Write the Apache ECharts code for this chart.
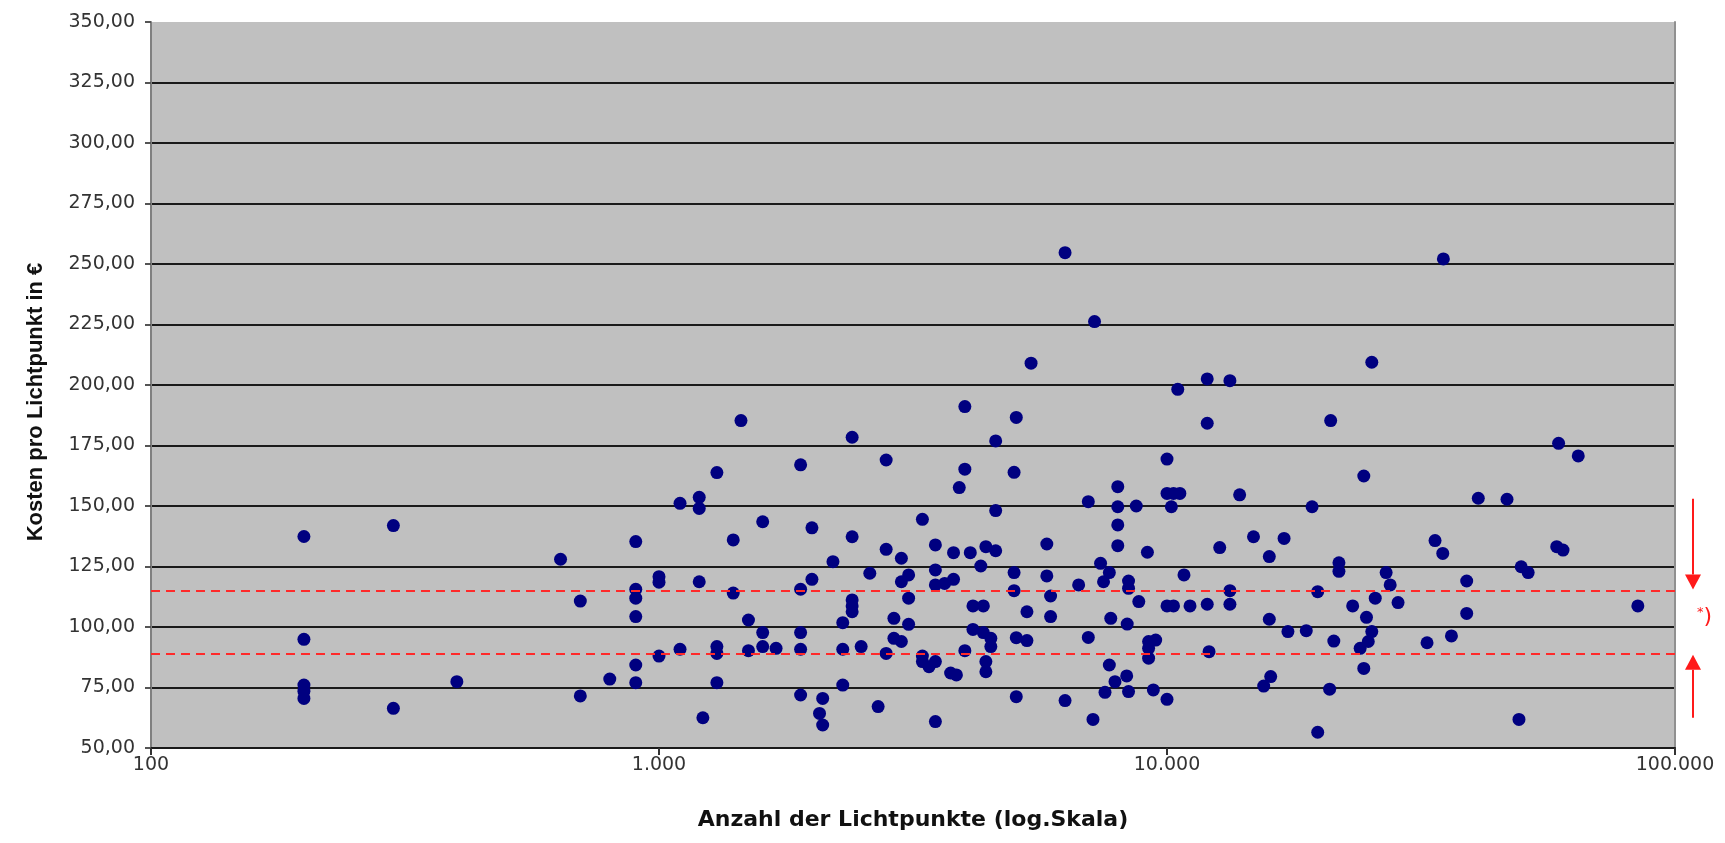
<!DOCTYPE html>
<html>
<head>
<meta charset="utf-8">
<title>Kosten pro Lichtpunkt</title>
<script src="https://cdn.jsdelivr.net/npm/echarts@6/dist/echarts.min.js"></script>
<style>
  html, body { margin: 0; padding: 0; background: #fff; }
  #chart { width: 1725px; height: 843px; }
</style>
</head>
<body>
<div id="chart"></div>
<script>
// Anzahl der Lichtpunkte (x, log) und Kosten pro Lichtpunkt in € (y)
var lichtpunkte = [
  200, 300, 200, 200, 200, 200, 400, 300,
  640, 700, 700, 800, 900, 900, 900, 900, 900, 900,
  1000, 1000, 1000, 1100, 1100, 1200, 1200, 1200, 1220,
  1300, 1300, 1300, 1300, 1400, 1400, 1450, 1500, 1500,
  1600, 1600, 1600, 1700, 1900, 1900, 1900, 1900, 1900,
  2000, 2000, 2100, 2070, 2100, 2200, 2300, 2300, 2300,
  2400, 2400, 2400, 2400, 2400, 2500, 2700, 2600, 2800, 2800, 2800,
  2900, 2900, 3000, 3000, 3000, 3100, 3100, 3100, 3300, 3300, 3300, 3400,
  3500, 3500, 3500, 3500, 3500, 3650, 3750,
  4000, 5050, 4600, 4000, 3900, 5000, 4600, 3800, 4100, 4400, 4600, 4300,
  3800, 5000, 5000, 5800, 5800, 5900, 5900, 4150, 4350, 5300, 4150, 4350,
  4500, 4500, 4000, 4400, 4400, 3850, 5050, 5300, 5050, 6300, 7150,
  7000, 7000, 8000, 8000, 8700, 8000, 8000, 9150, 7400, 7700, 7500, 6700,
  8400, 8400, 8800, 7750, 8350, 9200, 9500, 9200, 9200, 7700, 7900, 8330,
  7550, 8400, 9400, 10000, 10000, 10000, 10300, 10600, 10200, 10500,
  12000, 13900, 10800, 10000, 10300, 11100, 12000, 13300, 13300, 12100,
  12700, 14800, 17000, 15900, 15900, 17300, 18800, 15500, 16000,
  19300, 21000, 19800, 19800, 21800, 21800, 21300, 20900,
  6300, 7200, 5400, 12000, 13300, 25300, 35000,
  59000, 64500, 24400, 41000, 46700, 33700, 34900, 27000, 27500, 38900,
  49800, 51400, 58500, 60200, 25700, 23200, 28500, 38900, 84500, 24700,
  25300, 24900, 24000, 36300, 32500, 24400, 49300
];
var kosten = [
  137.4, 141.9, 94.9, 76.0, 73.5, 70.5, 77.4, 66.4,
  128.0, 110.7, 71.5, 78.5, 135.3, 115.6, 111.9, 104.3, 84.3, 77.0,
  120.8, 118.5, 88.0, 151.1, 90.8, 153.6, 149.0, 118.7, 62.5,
  163.8, 91.9, 89.1, 77.0, 136.0, 114.0, 185.3, 102.9, 90.2,
  143.5, 97.7, 91.9, 91.2, 167.0, 115.6, 97.7, 90.8, 71.9,
  141.0, 119.7, 70.5, 64.3, 59.5, 127.0, 101.8, 90.8, 76.0,
  178.4, 137.3, 111.2, 108.7, 106.3, 91.9, 67.1, 122.2, 169.0, 132.1, 89.1,
  103.6, 95.3, 128.4, 118.7, 94.0, 121.5, 111.9, 101.1, 144.5, 88.0, 85.7, 83.6,
  133.9, 123.6, 117.4, 85.7, 60.9, 118.0, 81.0,
  191.1, 186.6, 176.9, 165.2, 157.6, 163.9, 148.1, 130.7, 130.7, 133.2, 131.5, 125.2,
  119.7, 122.5, 115.0, 134.3, 121.1, 112.8, 104.3, 108.7, 108.7, 106.3, 99.0, 97.7,
  95.3, 91.9, 90.2, 85.7, 81.5, 80.2, 95.6, 94.4, 71.2, 69.6, 61.8,
  151.8, 95.7, 158.0, 149.7, 150.0, 142.2, 133.6, 130.9, 126.3, 122.5, 118.7, 117.4,
  119.0, 116.0, 110.5, 103.6, 101.2, 94.0, 94.6, 91.2, 87.1, 84.3, 77.4, 79.8,
  73.0, 73.3, 74.0, 70.1, 169.4, 155.2, 155.2, 155.2, 149.7, 198.2,
  184.2, 154.6, 121.5, 108.7, 108.7, 108.7, 109.4, 115.0, 109.4, 89.8,
  132.8, 137.3, 136.6, 129.1, 103.2, 98.1, 98.5, 75.6, 79.5,
  149.7, 185.3, 114.6, 56.5, 126.5, 123.0, 94.2, 74.3,
  254.7, 226.2, 209.0, 202.5, 201.8, 209.4, 252.1,
  175.9, 170.7, 162.4, 153.2, 152.8, 135.7, 130.4, 122.5, 117.4, 119.0,
  124.9, 122.5, 133.2, 131.8, 111.9, 108.7, 110.1, 105.6, 108.7, 104.0,
  98.1, 94.0, 91.2, 96.3, 93.5, 82.9, 61.8
];

// Achsen
var xMin = 100, xMax = 100000;
var yMin = 50, yMax = 350, yStep = 25;

// Bandbreite (rote Linien) und Pfeile rechts
var bandGrenzen = [89, 115];
var pfeilRunter = [153, 115.5];
var pfeilHoch = [62.5, 88.5];
var hinweisWert = 104;

var punkte = lichtpunkte.map(function(x, i) { return [x, kosten[i]]; });

function deZahl(v) {
  return String(Math.round(v)).replace(/\B(?=(\d{3})+(?!\d))/g, '.');
}

var myChart = echarts.init(document.getElementById('chart'));
var option = {
  backgroundColor: '#ffffff',
  animation: false,
  grid: {
    left: 151,
    right: 50,
    top: 22,
    bottom: 95,
    containLabel: false,
    show: true,
    backgroundColor: '#c0c0c0',
    borderWidth: 0
  },
  xAxis: {
    type: 'log',
    logBase: 10,
    min: xMin,
    max: xMax,
    name: 'Anzahl der Lichtpunkte (log.Skala)',
    nameLocation: 'middle',
    nameGap: 61,
    nameTextStyle: {
      fontFamily: 'DejaVu Sans',
      fontWeight: 'bold',
      fontSize: 22,
      color: '#111'
    },
    axisLine: { show: true, lineStyle: { color: '#1a1a1a', width: 2 } },
    axisTick: { show: true, length: 7, lineStyle: { color: '#333', width: 2 } },
    axisLabel: {
      margin: 8,
      fontFamily: 'DejaVu Sans',
      fontSize: 19,
      color: '#333',
      formatter: function(v) { return deZahl(v); }
    },
    splitLine: { show: false }
  },
  yAxis: [{
    type: 'value',
    min: yMin,
    max: yMax,
    interval: yStep,
    name: 'Kosten pro Lichtpunkt in €',
    nameLocation: 'middle',
    nameGap: 104,
    nameTextStyle: {
      fontFamily: "'Liberation Sans', Arial, sans-serif",
      fontWeight: 'bold',
      fontSize: 22,
      color: '#111',
      padding: [0, 34, 0, 0]
    },
    axisLine: { show: true, lineStyle: { color: '#808080', width: 2 } },
    axisTick: { show: true, length: 6, lineStyle: { color: '#555', width: 2 } },
    axisLabel: {
      margin: 16,
      fontFamily: 'DejaVu Sans',
      fontSize: 19,
      color: '#333',
      formatter: function(v) { return v.toFixed(2).replace('.', ','); }
    },
    splitLine: {
      show: true,
      showMaxLine: false,
      lineStyle: { color: '#1a1a1a', width: 2 }
    }
  }, {
    // rechter Rand der Zeichenfläche
    type: 'value',
    position: 'right',
    min: yMin,
    max: yMax,
    interval: yStep,
    axisLine: { show: true, lineStyle: { color: '#909090', width: 2 } },
    axisTick: { show: false },
    axisLabel: { show: false },
    splitLine: { show: false }
  }],
  series: [{
    name: 'Kosten',
    type: 'scatter',
    symbol: 'circle',
    symbolSize: 13,
    itemStyle: { color: '#000080', opacity: 1 },
    data: punkte,
    markLine: {
      silent: true,
      symbol: 'none',
      label: { show: false },
      lineStyle: { color: '#ff2a2a', width: 2, type: [9, 6] },
      data: bandGrenzen.map(function(v) { return { yAxis: v }; })
    }
  }]
};
myChart.setOption(option);

// Pfeile und Fußnote rechts neben der Zeichenfläche
function notizen() {
  function px(v) { return myChart.convertToPixel({ gridIndex: 0 }, [xMax, v]); }
  var ax = px(yMin)[0] + 18;
  var rot = '#ff1a1a';
  var kopf = 15, breit = 8;
  var d0 = px(pfeilRunter[0])[1], d1 = px(pfeilRunter[1])[1];
  var u0 = px(pfeilHoch[0])[1], u1 = px(pfeilHoch[1])[1];
  var h = px(hinweisWert)[1];
  myChart.setOption({
    graphic: [
      { type: 'line', shape: { x1: ax, y1: d0, x2: ax, y2: d1 - kopf }, style: { stroke: rot, lineWidth: 2 } },
      { type: 'polygon', shape: { points: [[ax - breit, d1 - kopf], [ax + breit, d1 - kopf], [ax, d1]] }, style: { fill: rot } },
      { type: 'line', shape: { x1: ax, y1: u0, x2: ax, y2: u1 + kopf }, style: { stroke: rot, lineWidth: 2 } },
      { type: 'polygon', shape: { points: [[ax - breit, u1 + kopf], [ax + breit, u1 + kopf], [ax, u1]] }, style: { fill: rot } },
      {
        type: 'text',
        x: ax + 4,
        y: h,
        style: {
          text: '{s|*}{k|)}',
          verticalAlign: 'middle',
          rich: {
            s: { fill: rot, fontSize: 13, fontFamily: 'DejaVu Sans', verticalAlign: 'top', padding: [0, 0, 8, 0] },
            k: { fill: rot, fontSize: 22, fontFamily: 'DejaVu Sans' }
          }
        }
      }
    ]
  });
}
notizen();
</script>
</body>
</html>
